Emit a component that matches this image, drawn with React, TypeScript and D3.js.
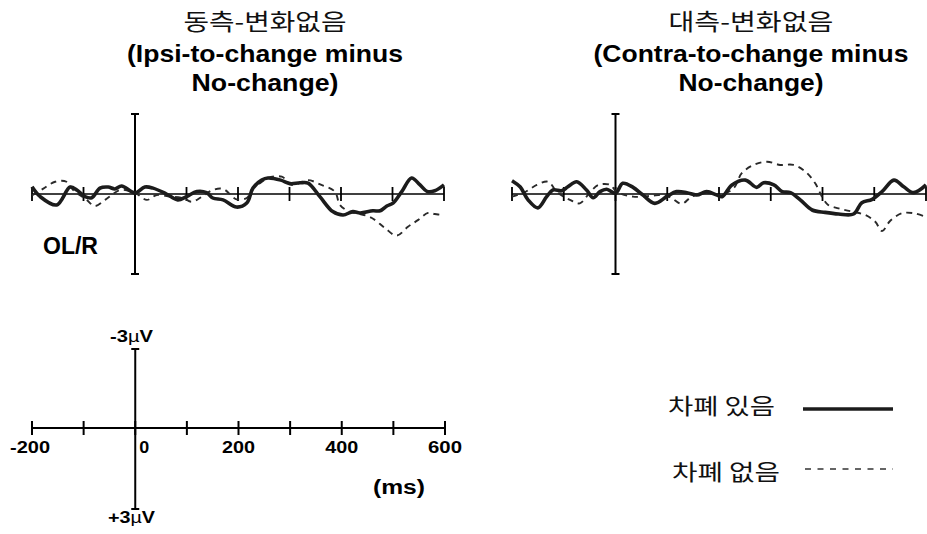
import React from "react";
import * as d3 from "d3";

// ---- Data (time in ms, amplitude in µV; negative plotted up) ----
const timeTicks = [-200, -100, 0, 100, 200, 300, 400, 500, 600];
const timeTickLabels = [-200, 0, 200, 400, 600];
const legendLabels = ["차폐 있음", "차폐 없음"];
const panelTitlesKo = ["동측-변화없음", "대측-변화없음"];
const panelTitlesEn1 = ["(Ipsi-to-change minus", "(Contra-to-change minus"];
const panelTitlesEn2 = ["No-change)", "No-change)"];
const channelLabel = "OL/R";

// Left panel, solid (차폐 있음)
const ipsiSolidT = [-200, -184, -152, -126, -113, -97, -84, -68, -52, -39, -26, 0, 19, 35, 61, 83, 100, 120, 139, 151, 171, 197, 217, 229, 246, 258, 283, 301, 320, 336, 359, 384, 404, 423, 437, 462, 476, 489, 501, 518, 537, 553, 567, 582, 600];
const ipsiSolidV = [-0.27, 0.1, 0.41, -0.26, -0.15, 0.1, 0.14, -0.22, -0.26, -0.19, -0.3, -0.04, -0.26, -0.22, 0, 0.22, 0.1, -0.09, -0.05, 0.15, 0.22, 0.49, 0.34, -0.22, -0.52, -0.6, -0.52, -0.39, -0.42, -0.41, 0.1, 0.66, 0.79, 0.66, 0.71, 0.63, 0.63, 0.45, 0.34, -0.09, -0.6, -0.35, -0.1, -0.12, -0.34];
// Left panel, dashed (차폐 없음)
const ipsiDashT = [-200, -178, -155, -133, -120, -94, -78, -58, -45, -29, 0, 23, 42, 68, 93, 110, 130, 151, 171, 197, 217, 229, 246, 258, 285, 304, 320, 336, 362, 388, 398, 417, 437, 460, 485, 508, 530, 550, 569, 582, 598];
const ipsiDashV = [0.05, -0.2, -0.46, -0.46, -0.15, 0.22, 0.45, 0.22, 0.04, -0.15, -0.04, 0.22, 0.04, 0.1, 0.15, 0.29, 0.1, -0.15, -0.19, 0.2, 0.15, -0.22, -0.45, -0.6, -0.65, -0.34, -0.41, -0.52, -0.34, -0.09, 0.41, 0.67, 0.75, 0.9, 1.27, 1.56, 1.23, 0.97, 0.71, 0.75, 0.79];

// Right panel, solid (차폐 있음)
const contraSolidT = [-200, -184, -169, -150, -133, -121, -104, -92, -75, -56, -43, -30, -17, 0, 14, 34, 53, 76, 99, 118, 138, 157, 176, 196, 206, 225, 251, 273, 286, 306, 322, 338, 357, 380, 405, 431, 460, 476, 496, 515, 538, 557, 576, 600];
const contraSolidV = [-0.5, -0.26, 0.22, 0.52, 0.1, -0.15, -0.12, -0.27, -0.46, -0.15, 0.14, -0.09, -0.18, -0.03, -0.4, -0.25, 0.04, 0.35, 0.1, -0.09, -0.05, 0.04, -0.09, 0.04, 0.1, -0.34, -0.52, -0.25, -0.42, -0.34, -0.09, -0.05, 0.22, 0.6, 0.69, 0.75, 0.75, 0.33, 0.2, -0.09, -0.52, -0.27, -0.05, -0.34];
// Right panel, dashed (차폐 없음)
const contraDashT = [-200, -177, -152, -130, -113, -88, -69, -49, -33, -10, 2, 34, 67, 96, 109, 128, 147, 173, 199, 228, 244, 267, 293, 318, 344, 367, 386, 399, 411, 431, 457, 483, 502, 515, 531, 554, 576, 599];
const contraDashV = [0.1, -0.05, -0.34, -0.46, -0.07, 0.22, 0.35, -0.07, -0.34, -0.34, -0.09, 0.1, 0.07, 0.04, 0.16, 0.37, 0.1, -0.05, 0.04, -0.21, -0.78, -1.09, -1.21, -1.09, -1.09, -0.84, -0.4, 0.1, 0.41, 0.54, 0.66, 0.79, 1.04, 1.39, 1.0, 0.72, 0.72, 0.85];

const EN_FONT = "'Liberation Sans', Arial, sans-serif";
const KO_FONT = "'Noto Sans CJK KR', 'Noto Sans', sans-serif";

const yScale = d3.scaleLinear().domain([-3, 3]).range([114, 274]);

type PanelProps = {
  x: d3.ScaleLinear<number, number>;
  solidT: number[];
  solidV: number[];
  dashT: number[];
  dashV: number[];
};

function Panel({ x, solidT, solidV, dashT, dashV }: PanelProps) {
  const line = d3
    .line<[number, number]>()
    .x((d) => x(d[0]))
    .y((d) => yScale(d[1]))
    .curve(d3.curveCatmullRom.alpha(0.5));
  const solid = solidT.map((t, i) => [t, solidV[i]] as [number, number]);
  const dash = dashT.map((t, i) => [t, dashV[i]] as [number, number]);
  const y0 = yScale(0);
  const x0 = x(0);
  return (
    <g>
      <line x1={x(-200)} x2={x(600)} y1={y0} y2={y0} stroke="#000" strokeWidth={1.5} />
      {timeTicks.map((t) => (
        <line key={t} x1={x(t)} x2={x(t)} y1={y0 - 7} y2={y0 + 7} stroke="#000" strokeWidth={1.8} />
      ))}
      <line x1={x0} x2={x0} y1={yScale(-3)} y2={yScale(3)} stroke="#000" strokeWidth={2} />
      <line x1={x0 - 4} x2={x0 + 4} y1={yScale(-3)} y2={yScale(-3)} stroke="#000" strokeWidth={2} />
      <line x1={x0 - 4} x2={x0 + 4} y1={yScale(3)} y2={yScale(3)} stroke="#000" strokeWidth={2} />
      <path d={line(dash) || ""} fill="none" stroke="#2a2a2a" strokeWidth={1.9} strokeDasharray="6,5" />
      <path d={line(solid) || ""} fill="none" stroke="#1c1c1c" strokeWidth={3.6} strokeLinejoin="round" />
    </g>
  );
}

export default function App() {
  const xLeft = d3.scaleLinear().domain([-200, 600]).range([32, 444]);
  const xRight = d3.scaleLinear().domain([-200, 600]).range([512, 926]);
  const xScaleBar = d3.scaleLinear().domain([-200, 600]).range([32, 445]);
  const yScaleBar = d3.scaleLinear().domain([-3, 3]).range([349, 509]);
  const sb0 = 428;
  const sbx0 = xScaleBar(0);

  const titleCenters = [265, 751];
  const koWidths = [163, 165];
  const en1Widths = [276, 315];
  const en2Widths = [147, 145];

  const labelWidths: Record<number, number> = { [-200]: 40, 0: 10, 200: 33, 400: 33, 600: 34 };

  return (
    <svg
      width={927}
      height={534}
      style={{ position: "absolute", left: 0, top: 0, background: "#fff" }}
    >
      <rect x={0} y={0} width={927} height={534} fill="#fff" />
      {/* Titles */}
      {titleCenters.map((cx, i) => (
        <g key={i}>
          <text x={cx} y={30} textAnchor="middle" fontFamily={KO_FONT} fontSize={23} fill="#111"
            textLength={koWidths[i]} lengthAdjust="spacingAndGlyphs">
            {panelTitlesKo[i]}
          </text>
          <text x={cx} y={62} textAnchor="middle" fontFamily={EN_FONT} fontWeight="bold" fontSize={24} fill="#000"
            textLength={en1Widths[i]} lengthAdjust="spacingAndGlyphs">
            {panelTitlesEn1[i]}
          </text>
          <text x={cx} y={91} textAnchor="middle" fontFamily={EN_FONT} fontWeight="bold" fontSize={24} fill="#000"
            textLength={en2Widths[i]} lengthAdjust="spacingAndGlyphs">
            {panelTitlesEn2[i]}
          </text>
        </g>
      ))}

      <Panel x={xLeft} solidT={ipsiSolidT} solidV={ipsiSolidV} dashT={ipsiDashT} dashV={ipsiDashV} />
      <Panel x={xRight} solidT={contraSolidT} solidV={contraSolidV} dashT={contraDashT} dashV={contraDashV} />

      <text x={43} y={254} fontFamily={EN_FONT} fontWeight="bold" fontSize={23} fill="#000"
        textLength={55} lengthAdjust="spacingAndGlyphs">
        {channelLabel}
      </text>

      {/* Scale bar */}
      <line x1={xScaleBar(-200)} x2={xScaleBar(600)} y1={sb0} y2={sb0} stroke="#000" strokeWidth={2} />
      {timeTicks.map((t) => (
        <line key={t} x1={xScaleBar(t)} x2={xScaleBar(t)} y1={sb0 - 7} y2={sb0 + 7} stroke="#000" strokeWidth={2} />
      ))}
      <line x1={sbx0} x2={sbx0} y1={yScaleBar(-3)} y2={yScaleBar(3)} stroke="#000" strokeWidth={2} />
      <line x1={sbx0 - 4} x2={sbx0 + 4} y1={yScaleBar(-3)} y2={yScaleBar(-3)} stroke="#000" strokeWidth={2} />
      <line x1={sbx0 - 4} x2={sbx0 + 4} y1={yScaleBar(3)} y2={yScaleBar(3)} stroke="#000" strokeWidth={2} />
      {timeTickLabels.map((t) => (
        <text
          key={t}
          x={t === 0 ? sbx0 + 4 : t === -200 ? 10 : xScaleBar(t)}
          y={453}
          textAnchor={t === 0 || t === -200 ? "start" : "middle"}
          fontFamily={EN_FONT}
          fontWeight="bold"
          fontSize={17}
          fill="#000"
          textLength={labelWidths[t]}
          lengthAdjust="spacingAndGlyphs"
        >
          {t}
        </text>
      ))}
      <text x={373} y={494} fontFamily={EN_FONT} fontWeight="bold" fontSize={20} fill="#000"
        textLength={52} lengthAdjust="spacingAndGlyphs">
        (ms)
      </text>
      <text x={110} y={342} fontFamily={EN_FONT} fontWeight="bold" fontSize={16} fill="#000"
        textLength={43} lengthAdjust="spacingAndGlyphs">
        -3<tspan fontWeight="normal">µ</tspan>V
      </text>
      <text x={108} y={523} fontFamily={EN_FONT} fontWeight="bold" fontSize={16} fill="#000"
        textLength={47} lengthAdjust="spacingAndGlyphs">
        +3<tspan fontWeight="normal">µ</tspan>V
      </text>

      {/* Legend */}
      <text x={668} y={414} fontFamily={KO_FONT} fontSize={22} fill="#111"
        textLength={107} lengthAdjust="spacingAndGlyphs">
        {legendLabels[0]}
      </text>
      <line x1={803} x2={893} y1={409} y2={409} stroke="#1c1c1c" strokeWidth={3.5} />
      <text x={672} y={480} fontFamily={KO_FONT} fontSize={22} fill="#111"
        textLength={108} lengthAdjust="spacingAndGlyphs">
        {legendLabels[1]}
      </text>
      <line x1={805} x2={893} y1={469} y2={469} stroke="#333" strokeWidth={1.6} strokeDasharray="6,6.5" />
    </svg>
  );
}
